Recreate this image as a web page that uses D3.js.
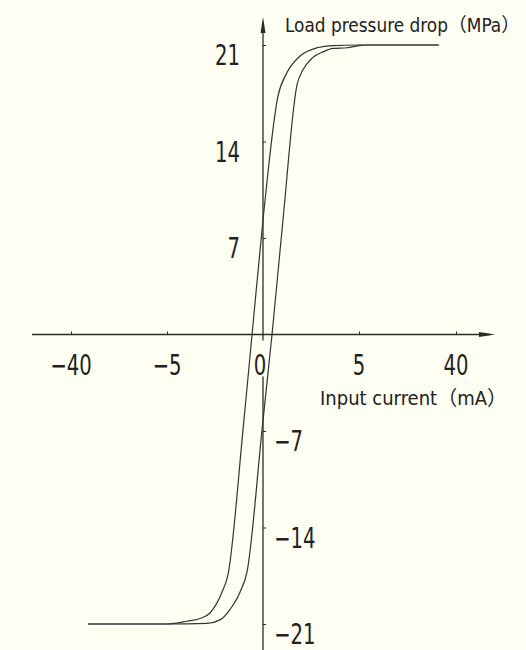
<!DOCTYPE html>
<html><head><meta charset="utf-8">
<script src="https://cdn.jsdelivr.net/npm/d3@7/dist/d3.min.js"></script>
<style>
html,body{margin:0;padding:0;background:#fefef2;}
svg{display:block;}
text{font-family:"Liberation Sans Narrow","DejaVu Sans Condensed","Noto Sans CJK SC",sans-serif;fill:#222;}
</style>
</head><body>
<svg id="chart" width="526" height="650"></svg>
<script>
// ---- data ----
const xTickValues = [-40, -5, 0, 5, 40];
const yTickValues = [-21, -14, -7, 7, 14, 21];
const xTitle = "Input current（mA）";
const yTitle = "Load pressure drop（MPa）";

// left branch of the hysteresis loop (current mA, pressure MPa)
const leftBranchX = [-33.8, -5.0, -3.96, -3.28, -2.76, -2.14, -1.82, -1.04, -0.57, 0.0, 0.78, 1.25, 1.93, 2.81, 3.65, 5.05, 33.8];
const leftBranchY = [-21.0, -21.0, -20.8, -20.6, -20.2, -18.7, -17.4, -6.9, 0.0, 8.3, 17.3, 19.0, 20.2, 20.8, 20.96, 21.0, 21.0];
// right branch
const rightBranchX = [-33.8, -5.0, -2.92, -2.24, -1.72, -1.2, -0.83, -0.05, 0.47, 1.04, 1.77, 2.08, 2.6, 3.13, 3.65, 4.38, 5.05, 7.9, 33.8];
const rightBranchY = [-21.0, -21.0, -20.95, -20.7, -19.95, -18.7, -17.2, -6.9, 0.0, 8.3, 18.1, 19.2, 20.1, 20.5, 20.75, 20.8, 20.96, 21.0, 21.0];

// ---- drawing ----
const svg = d3.select("#chart");
svg.append("rect").attr("width", 526).attr("height", 650).attr("fill", "#fefef2");

const x = d3.scaleLinear().domain([-40, -5, 0, 5, 40]).range([71, 167, 263, 359, 456]);
const y = d3.scaleLinear().domain([-21, 21]).range([624, 45]);
const fmt = d => d < 0 ? "−" + Math.abs(d) : String(d);

const axisColor = "#2a2a2a";
const x0 = x(0), y0 = y(0);
const squeeze = 0.78;

// x axis line + arrow
svg.append("line").attr("x1", 32).attr("x2", 490).attr("y1", y0).attr("y2", y0)
  .attr("stroke", axisColor).attr("stroke-width", 1.3);
svg.append("path").attr("d", `M495,${y0} L479,${y0-2.5} L479,${y0+2.5} Z`).attr("fill", axisColor);

// y axis line + arrow
svg.append("line").attr("x1", x0).attr("x2", x0).attr("y1", 22).attr("y2", 650)
  .attr("stroke", axisColor).attr("stroke-width", 1.3);
svg.append("path").attr("d", `M${x0},17 L${x0-2.5},33 L${x0+2.5},33 Z`).attr("fill", axisColor);

// x ticks via axis generator (upward marks)
const gx = svg.append("g").attr("transform", `translate(0,${y0})`)
  .call(d3.axisBottom(x).tickValues(xTickValues.filter(d => d !== 0)).tickSizeInner(-3).tickSizeOuter(0).tickFormat(""));
gx.select(".domain").remove();
gx.selectAll(".tick line").attr("stroke", axisColor).attr("stroke-width", 1);

// y ticks (marks to the right)
const gy = svg.append("g").attr("transform", `translate(${x0},0)`)
  .call(d3.axisRight(y).tickValues(yTickValues).tickSizeInner(3).tickSizeOuter(0).tickFormat(""));
gy.select(".domain").remove();
gy.selectAll(".tick line").attr("stroke", axisColor).attr("stroke-width", 1);

// "0" label background (interrupts the y axis)
svg.append("rect").attr("x", x(0) - 9).attr("y", y0 + 6).attr("width", 15).attr("height", 36).attr("fill", "#fefef2");

// x tick labels
svg.append("g").selectAll("text").data(xTickValues).join("text")
  .attr("transform", d => `translate(${x(d) + (d === 0 ? -3 : 0)},${y0 + 40}) scale(${squeeze},1)`)
  .attr("text-anchor", "middle").attr("font-size", 28)
  .text(fmt);

// y tick labels
svg.append("g").selectAll("text").data(yTickValues).join("text")
  .attr("transform", d => `translate(${d > 0 ? x0 - 23 : x0 + 11},${y(d) + 20}) scale(${squeeze},1)`)
  .attr("text-anchor", d => d > 0 ? "end" : "start")
  .attr("font-size", 28)
  .text(fmt);

// titles
svg.append("text").attr("x", 285).attr("y", 32).attr("font-size", 19)
  .attr("textLength", 235).attr("lengthAdjust", "spacingAndGlyphs").text(yTitle);
svg.append("text").attr("x", 320).attr("y", 405).attr("font-size", 20)
  .attr("textLength", 187).attr("lengthAdjust", "spacingAndGlyphs").text(xTitle);

// curves
const line = d3.line().x(d => x(d[0])).y(d => y(d[1])).curve(d3.curveMonotoneX);
const branches = [
  d3.zip(leftBranchX, leftBranchY),
  d3.zip(rightBranchX, rightBranchY)
];
svg.append("g").selectAll("path").data(branches).join("path")
  .attr("d", line).attr("fill", "none").attr("stroke", "#333").attr("stroke-width", 1.2);
</script>
</body></html>
